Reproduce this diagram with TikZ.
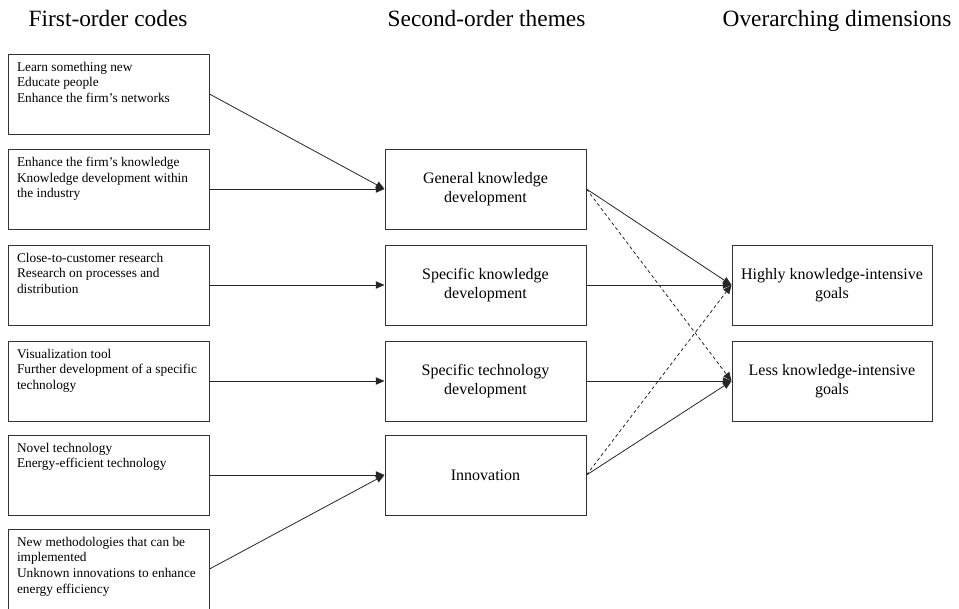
\documentclass[tikz,border=0pt]{standalone}
\usepackage{fontspec}
\setmainfont{Liberation Serif}
\usetikzlibrary{arrows.meta,positioning}

\begin{document}
\begin{tikzpicture}[
  x=0.75pt,y=-0.75pt,
  codebox/.style={draw=black!80,line width=0.75pt,inner xsep=6.75pt,inner ysep=6pt,
    font=\fontsize{10}{11.8}\selectfont},
  themebox/.style={draw=black!80,line width=0.75pt,minimum width=150.75pt,minimum height=60pt,
    align=center,font=\fontsize{12}{13.8}\selectfont},
  head/.style={anchor=base west,font=\fontsize{17.5}{20}\selectfont},
  arr/.style={-{Triangle[length=6.5pt,width=5.5pt]},line width=0.6pt,black!85},
  darr/.style={arr,dash pattern=on 2.5pt off 2pt}
]
  \useasboundingbox (0,0) rectangle (959,608);

  % Column headings
  \node[head] (h1) at (24,26) {First-order codes};
  \node[head] (h2) at (383,26) {Second-order themes};
  \node[head] (h3) at (718,26) {Overarching dimensions};

  % First-order codes
  \node[codebox] (c1) at (108.5,94) {\parbox[c][48pt][t]{137.25pt}{Learn something new\\Educate people\\Enhance the firm's networks}};
  \node[codebox] (c2) at (108.5,189) {\parbox[c][48pt][t]{137.25pt}{Enhance the firm's knowledge\\Knowledge development within\\the industry}};
  \node[codebox] (c3) at (108.5,285) {\parbox[c][48pt][t]{137.25pt}{Close-to-customer research\\Research on processes and\\distribution}};
  \node[codebox] (c4) at (108.5,381) {\parbox[c][48pt][t]{137.25pt}{Visualization tool\\Further development of a specific\\technology}};
  \node[codebox] (c5) at (108.5,475) {\parbox[c][48pt][t]{137.25pt}{Novel technology\\Energy-efficient technology}};
  \node[codebox] (c6) at (108.5,569) {\parbox[c][48pt][t]{137.25pt}{New methodologies that can be\\implemented\\Unknown innovations to enhance\\energy efficiency}};

  % Second-order themes
  \node[themebox] (gen) at (485.5,189) {General knowledge\\development};
  \node[themebox] (spk) at (485.5,285) {Specific knowledge\\development};
  \node[themebox] (spt) at (485.5,381) {Specific technology\\development};
  \node[themebox] (inn) at (485.5,475) {Innovation};

  % Overarching dimensions
  \node[themebox,minimum width=150pt] (high) at (832,285) {Highly knowledge-intensive\\goals};
  \node[themebox,minimum width=150pt] (less) at (832,381) {Less knowledge-intensive\\goals};

  % Arrows
  \draw[arr] (c1.east) -- (gen.west);
  \draw[arr] (c2.east) -- (gen.west);
  \draw[arr] (c3.east) -- (spk.west);
  \draw[arr] (c4.east) -- (spt.west);
  \draw[arr] (c5.east) -- (inn.west);
  \draw[arr] (c6.east) -- (inn.west);

  \draw[arr] (gen.east) -- (high.west);
  \draw[darr] (gen.east) -- (less.west);
  \draw[arr] (spk.east) -- (high.west);
  \draw[arr] (spt.east) -- (less.west);
  \draw[arr] (inn.east) -- (less.west);
  \draw[darr] (inn.east) -- (high.west);
\end{tikzpicture}
\end{document}
